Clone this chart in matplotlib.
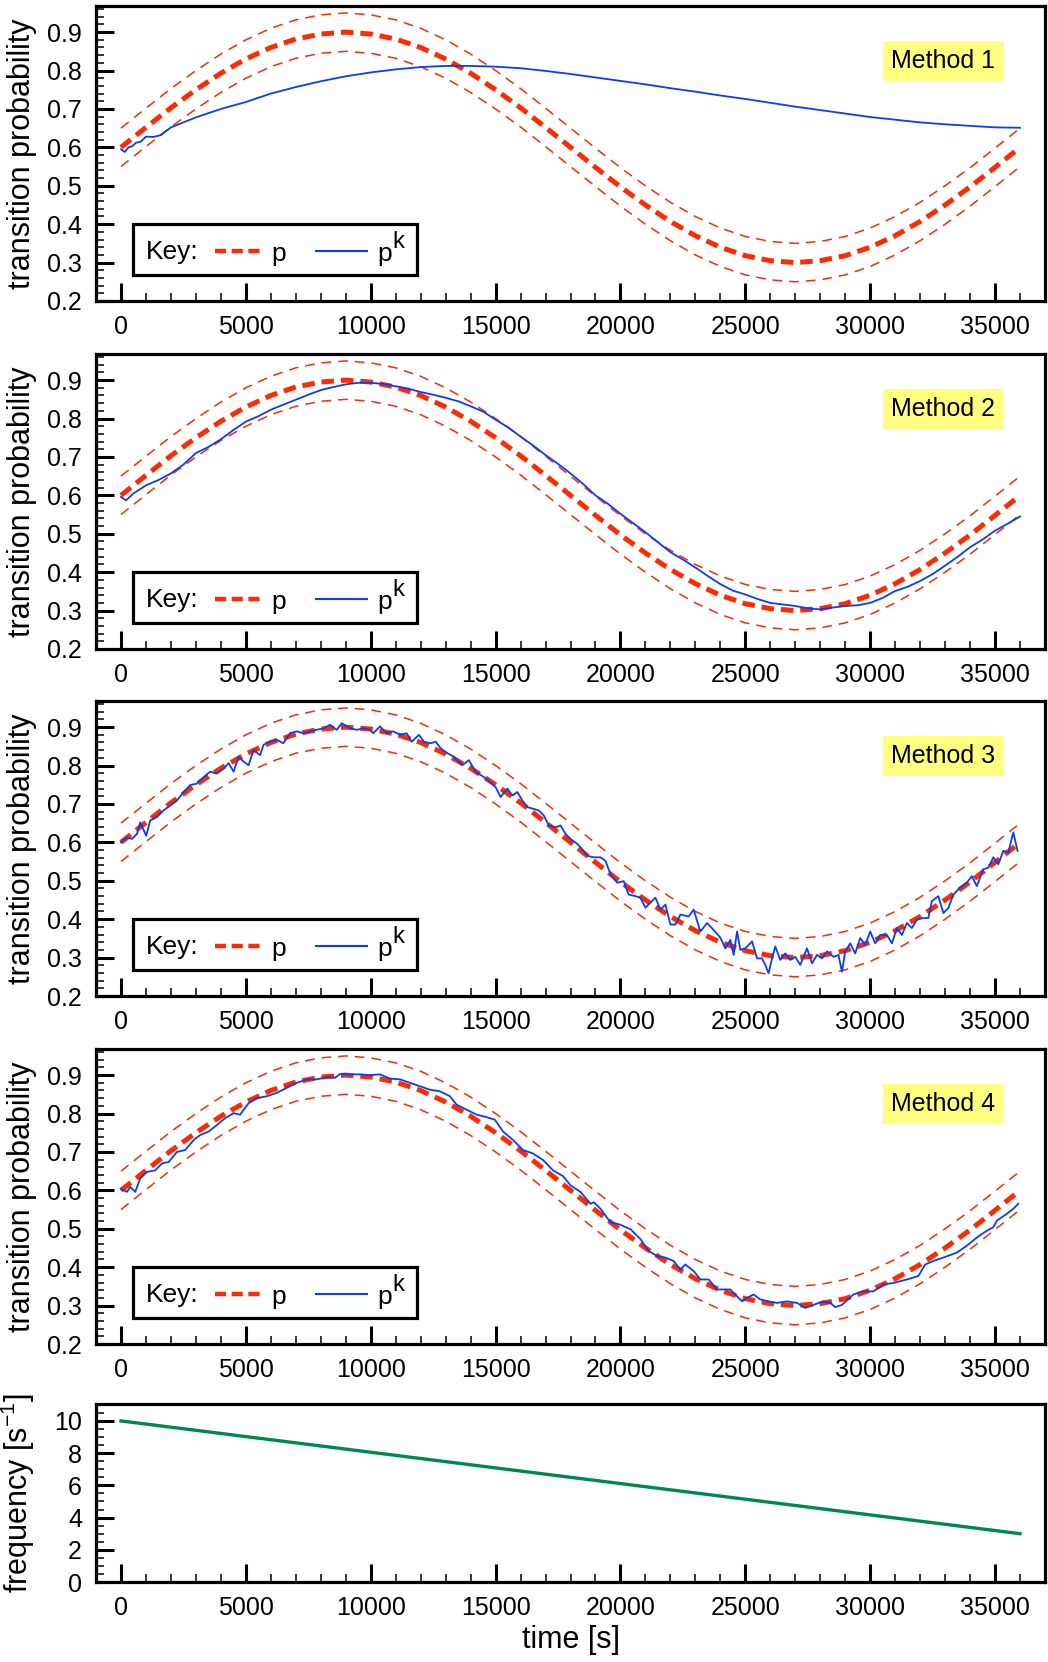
import matplotlib
matplotlib.use("Agg")
import matplotlib.pyplot as plt
from matplotlib.lines import Line2D
from matplotlib.patches import Rectangle
from matplotlib.ticker import MultipleLocator

plt.rcParams['font.family'] = ['Liberation Sans', 'DejaVu Sans']
plt.rcParams['mathtext.default'] = 'regular'
plt.rcParams['lines.scale_dashes'] = False

# target probability p, read every 1000 s
t_p = list(range(0, 37000, 1000))
p = [0.600, 0.652, 0.703, 0.750, 0.793, 0.830, 0.860, 0.882, 0.895, 0.900,
     0.895, 0.882, 0.860, 0.830, 0.793, 0.750, 0.703, 0.652, 0.600, 0.548,
     0.497, 0.450, 0.407, 0.370, 0.340, 0.318, 0.305, 0.300, 0.305, 0.318,
     0.340, 0.370, 0.407, 0.450, 0.497, 0.548, 0.600]
tolerance = 0.05

# method 1 estimate
t1 = [0, 150, 300, 450, 600, 800, 1000, 1300, 1600, 2000, 3000, 4000, 5000,
      6000, 7000, 8000, 9000, 10000, 11000, 12000, 13000, 14000, 15000, 16000,
      17000, 18000, 19000, 20000, 21000, 22000, 23000, 24000, 25000, 26000,
      27000, 28000, 29000, 30000, 31000, 32000, 33000, 34000, 35000, 36000]
pk1 = [0.595, 0.588, 0.600, 0.603, 0.612, 0.615, 0.628, 0.627, 0.632, 0.652,
       0.678, 0.700, 0.718, 0.740, 0.757, 0.772, 0.785, 0.795, 0.803, 0.809,
       0.812, 0.812, 0.810, 0.806, 0.799, 0.791, 0.782, 0.773, 0.764, 0.754,
       0.745, 0.735, 0.726, 0.716, 0.706, 0.697, 0.688, 0.679, 0.672, 0.665,
       0.660, 0.656, 0.652, 0.651]

# method 2 estimate
t2 = [0, 200, 500, 1000, 1500, 2000, 2500, 3000, 3500, 4000, 4500, 5000, 5500,
      6000, 6500, 7000, 7500, 8000, 8500, 9000, 9500, 10000, 10500, 11000,
      11500, 12000, 12500, 13000, 13500, 14000, 14500, 15000, 15500, 16000,
      16500, 17000, 17500, 18000, 18500, 19000, 19500, 20000, 20500, 21000,
      21500, 22000, 22500, 23000, 23500, 24000, 24500, 25000, 25500, 26000,
      26500, 27000, 27500, 28000, 28500, 29000, 29500, 30000, 30500, 31000,
      31500, 32000, 32500, 33000, 33500, 34000, 34500, 35000, 35500, 36000]
pk2 = [0.596, 0.587, 0.605, 0.626, 0.640, 0.657, 0.680, 0.710, 0.726, 0.746,
       0.770, 0.792, 0.806, 0.823, 0.836, 0.849, 0.862, 0.874, 0.882, 0.889,
       0.893, 0.893, 0.890, 0.884, 0.878, 0.869, 0.862, 0.854, 0.845, 0.832,
       0.818, 0.797, 0.777, 0.753, 0.730, 0.705, 0.682, 0.657, 0.630, 0.600,
       0.578, 0.552, 0.528, 0.504, 0.478, 0.452, 0.433, 0.412, 0.390, 0.369,
       0.352, 0.342, 0.330, 0.320, 0.316, 0.312, 0.306, 0.303, 0.308, 0.312,
       0.314, 0.320, 0.333, 0.351, 0.362, 0.377, 0.395, 0.417, 0.440, 0.465,
       0.485, 0.508, 0.526, 0.545]

# method 3 estimate
t3 = [0, 240, 440, 640, 770, 1010, 1170, 1440, 1700, 1970, 2240, 2510, 2770,
      3040, 3310, 3570, 3840, 4110, 4310, 4510, 4710, 4910, 5110, 5310, 5570,
      5710, 5970, 6240, 6500, 6770, 7040, 7300, 7570, 7840, 8110, 8370, 8640,
      8840, 9170, 9440, 9710, 9970, 10100, 10370, 10640, 10900, 11170, 11440,
      11640, 11930, 12130, 12400, 12600, 12800, 13070, 13330, 13670, 13930,
      14200, 14530, 14800, 15000, 15200, 15470, 15670, 15870, 16070, 16270,
      16530, 16730, 16930, 17130, 17400, 17600, 17800, 18000, 18270, 18470,
      18670, 18930, 19200, 19400, 19600, 19870, 20130, 20330, 20600, 20800,
      21000, 21200, 21400, 21600, 21800, 22000, 22200, 22400, 22730, 22930,
      23200, 23470, 23730, 24000, 24200, 24400, 24530, 24670, 24800, 25000,
      25270, 25470, 25670, 25800, 25930, 26070, 26200, 26400, 26600, 26800,
      27000, 27200, 27470, 27670, 27870, 28070, 28270, 28530, 28730, 28870,
      29000, 29200, 29400, 29600, 29800, 30000, 30200, 30400, 30670, 30870,
      31070, 31270, 31470, 31670, 31870, 32130, 32330, 32470, 32730, 32930,
      33130, 33330, 33600, 33870, 34070, 34270, 34530, 34730, 34930, 35130,
      35330, 35530, 35730, 35900]
pk3 = [0.600, 0.613, 0.609, 0.622, 0.652, 0.617, 0.657, 0.666, 0.683, 0.696,
       0.709, 0.731, 0.749, 0.753, 0.770, 0.784, 0.779, 0.792, 0.806, 0.784,
       0.823, 0.810, 0.801, 0.840, 0.827, 0.854, 0.862, 0.867, 0.858, 0.884,
       0.889, 0.884, 0.889, 0.893, 0.897, 0.906, 0.893, 0.910, 0.897, 0.893,
       0.897, 0.893, 0.884, 0.902, 0.884, 0.889, 0.880, 0.884, 0.862, 0.880,
       0.862, 0.858, 0.862, 0.845, 0.832, 0.823, 0.801, 0.814, 0.784, 0.770,
       0.757, 0.744, 0.718, 0.740, 0.722, 0.731, 0.709, 0.692, 0.687, 0.683,
       0.670, 0.644, 0.639, 0.644, 0.622, 0.609, 0.596, 0.582, 0.565, 0.561,
       0.561, 0.552, 0.517, 0.495, 0.499, 0.464, 0.460, 0.456, 0.430, 0.443,
       0.456, 0.425, 0.438, 0.386, 0.386, 0.412, 0.407, 0.425, 0.368, 0.390,
       0.372, 0.352, 0.324, 0.346, 0.307, 0.368, 0.320, 0.324, 0.342, 0.298,
       0.298, 0.281, 0.259, 0.298, 0.329, 0.294, 0.311, 0.294, 0.302, 0.281,
       0.324, 0.285, 0.307, 0.298, 0.316, 0.302, 0.307, 0.263, 0.316, 0.337,
       0.311, 0.351, 0.333, 0.368, 0.337, 0.359, 0.359, 0.337, 0.377, 0.359,
       0.390, 0.377, 0.399, 0.403, 0.403, 0.447, 0.460, 0.416, 0.429, 0.464,
       0.482, 0.495, 0.512, 0.486, 0.530, 0.534, 0.561, 0.543, 0.578, 0.574,
       0.626, 0.578]

# method 4 estimate
t4 = [0, 240, 370, 570, 770, 1040, 1370, 1640, 1910, 2240, 2570, 2910, 3170,
      3510, 3840, 4170, 4510, 4770, 5110, 5440, 5840, 6240, 6640, 7040, 7440,
      7840, 8240, 8570, 8770, 9170, 9570, 9970, 10370, 10770, 11170, 11570,
      11970, 12370, 12770, 13170, 13440, 13840, 14240, 14570, 14970, 15300,
      15700, 16100, 16500, 16900, 17300, 17700, 18000, 18400, 18800, 18930,
      19200, 19600, 19930, 20400, 20800, 21130, 21470, 21800, 22130, 22400,
      22600, 22930, 23200, 23530, 23870, 24130, 24400, 24670, 24870, 25070,
      25330, 25600, 25930, 26270, 26670, 27070, 27400, 27730, 28130, 28400,
      28600, 28870, 29330, 29730, 30130, 30530, 30930, 31470, 31930, 32200,
      32530, 32930, 33470, 33870, 34270, 34670, 34930, 35070, 35470, 35730,
      35930]
pk4 = [0.604, 0.596, 0.609, 0.596, 0.631, 0.648, 0.652, 0.670, 0.674, 0.700,
       0.705, 0.731, 0.744, 0.753, 0.770, 0.788, 0.801, 0.797, 0.827, 0.840,
       0.845, 0.854, 0.867, 0.880, 0.889, 0.889, 0.895, 0.893, 0.903, 0.902,
       0.902, 0.900, 0.902, 0.891, 0.889, 0.880, 0.871, 0.862, 0.858, 0.845,
       0.823, 0.810, 0.797, 0.792, 0.784, 0.753, 0.731, 0.705, 0.696, 0.679,
       0.652, 0.637, 0.613, 0.596, 0.565, 0.569, 0.552, 0.517, 0.512, 0.499,
       0.473, 0.442, 0.429, 0.425, 0.416, 0.394, 0.407, 0.390, 0.368, 0.368,
       0.342, 0.342, 0.342, 0.324, 0.311, 0.320, 0.329, 0.316, 0.311, 0.307,
       0.311, 0.307, 0.294, 0.302, 0.311, 0.307, 0.296, 0.302, 0.329, 0.337,
       0.337, 0.355, 0.359, 0.368, 0.377, 0.407, 0.416, 0.425, 0.438, 0.456,
       0.477, 0.495, 0.504, 0.521, 0.539, 0.552, 0.565]

# frequency schedule
t_f = [0, 36000]
freq = [10, 3]

methods = [("Method 1", t1, pk1), ("Method 2", t2, pk2),
           ("Method 3", t3, pk3), ("Method 4", t4, pk4)]

RED = '#ff2a00'
BLUE = '#0a3cff'
GREEN = '#00884a'
W, H = 1048, 1662
FS = 18


def ax_rect(top, bottom):
    return [96 / W, 1 - bottom / H, (1045 - 96) / W, (bottom - top) / H]


def style_axes(ax):
    for s in ax.spines.values():
        s.set_linewidth(2.3)
    ax.set_xlim(-1000, 37000)
    ax.xaxis.set_major_locator(MultipleLocator(5000))
    ax.xaxis.set_minor_locator(MultipleLocator(1000))
    ax.tick_params(which='both', direction='in', top=False, right=False,
                   labelsize=FS, pad=10)
    ax.tick_params(which='major', length=13, width=2.2)
    ax.tick_params(which='minor', length=6, width=1.1)


fig = plt.figure(figsize=(W / 100, H / 100), dpi=100)

tops = [6, 354, 701, 1049]
for (name, t, pk), top in zip(methods, tops):
    ax = fig.add_axes(ax_rect(top, top + 295))
    style_axes(ax)
    upper = [v + tolerance for v in p]
    lower = [v - tolerance for v in p]
    ax.plot(t_p, upper, color=RED, lw=1.1, dashes=(7, 5))
    ax.plot(t_p, lower, color=RED, lw=1.1, dashes=(7, 5))
    ax.plot(t_p, p, color=RED, lw=3.6, dashes=(9, 5))
    ax.plot(t, pk, color=BLUE, lw=1.3)
    ax.set_ylim(0.2, 0.968)
    ax.yaxis.set_minor_locator(MultipleLocator(0.02))
    ax.set_yticks([0.2, 0.3, 0.4, 0.5, 0.6, 0.7, 0.8, 0.9])
    ax.set_ylabel("transition probability", fontsize=22)
    ax.yaxis.set_label_coords(-0.062, 0.5)

    # method tag
    ax.text(0.893, 0.813, name, transform=ax.transAxes, fontsize=FS,
            ha='center', va='center',
            bbox=dict(boxstyle='square,pad=0.33', fc='#ffff80', ec='none'))

    # key box
    ax.add_patch(Rectangle((0.039, 0.088), 0.299, 0.173, transform=ax.transAxes,
                           fill=False, lw=2.3, ec='black', zorder=5))
    ax.text(0.053, 0.165, "Key:", transform=ax.transAxes, fontsize=FS + 1,
            va='center', ha='left')
    ax.add_line(Line2D([0.125, 0.176], [0.17, 0.17], transform=ax.transAxes,
                       color=RED, lw=3.2, dashes=(8, 4)))
    ax.text(0.185, 0.16, "p", transform=ax.transAxes, fontsize=FS + 1,
            va='center', ha='left')
    ax.add_line(Line2D([0.232, 0.286], [0.17, 0.17], transform=ax.transAxes,
                       color=BLUE, lw=1.5))
    ax.text(0.296, 0.16, "p", transform=ax.transAxes, fontsize=FS + 1,
            va='center', ha='left')
    ax.text(0.312, 0.2, "k", transform=ax.transAxes, fontsize=FS - 1,
            va='center', ha='left')

ax = fig.add_axes(ax_rect(1404, 1582))
style_axes(ax)
ax.plot(t_f, freq, color=GREEN, lw=2.4)
ax.set_ylim(0, 11.05)
ax.yaxis.set_major_locator(MultipleLocator(2))
ax.yaxis.set_minor_locator(MultipleLocator(0.5))
ax.set_ylabel("frequency [s$^{-1}$]", fontsize=22)
ax.yaxis.set_label_coords(-0.062, 0.5)
ax.set_xlabel("time [s]", fontsize=22, labelpad=4)

fig.savefig("out.png", dpi=100)
